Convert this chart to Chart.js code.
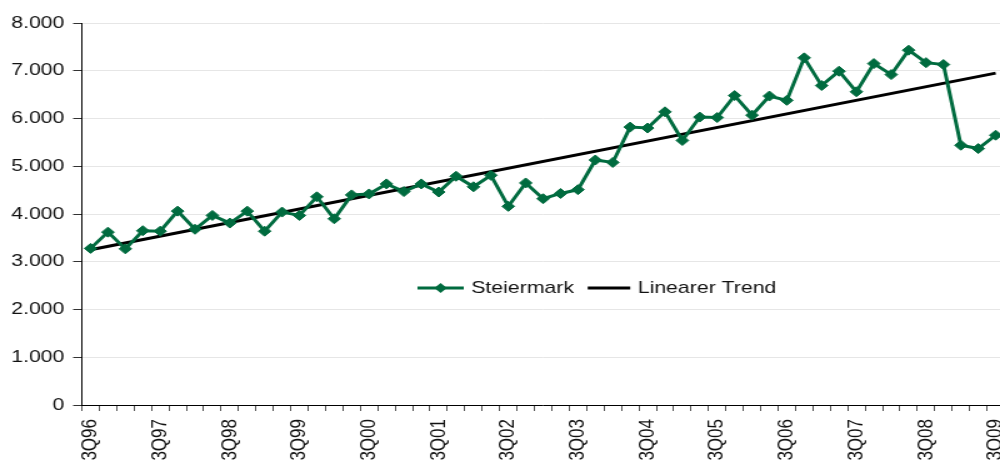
<!DOCTYPE html>
<html>
<head>
<meta charset="utf-8">
<script src="https://cdn.jsdelivr.net/npm/chart.js@4"></script>
<style>
  html, body { margin: 0; padding: 0; width: 1000px; height: 466px; overflow: hidden; background: #fff; }
  /* original chart is stretched horizontally, so draw narrower and stretch */
  #wrap { position: absolute; left: 0; top: 0; width: 825px; height: 466px; transform: scaleX(1.25); transform-origin: 0 0; }
</style>
</head>
<body>
<div id="wrap"><canvas id="chart" width="825" height="466"></canvas></div>
<script>
// Daten
const quarters = [
  '3Q96', '4Q96',
  '1Q97', '2Q97', '3Q97', '4Q97',
  '1Q98', '2Q98', '3Q98', '4Q98',
  '1Q99', '2Q99', '3Q99', '4Q99',
  '1Q00', '2Q00', '3Q00', '4Q00',
  '1Q01', '2Q01', '3Q01', '4Q01',
  '1Q02', '2Q02', '3Q02', '4Q02',
  '1Q03', '2Q03', '3Q03', '4Q03',
  '1Q04', '2Q04', '3Q04', '4Q04',
  '1Q05', '2Q05', '3Q05', '4Q05',
  '1Q06', '2Q06', '3Q06', '4Q06',
  '1Q07', '2Q07', '3Q07', '4Q07',
  '1Q08', '2Q08', '3Q08', '4Q08',
  '1Q09', '2Q09', '3Q09'
];
const steiermark = [
  3280, 3620,
  3270, 3650, 3640, 4060,
  3680, 3970, 3810, 4060,
  3640, 4040, 3970, 4360,
  3900, 4400, 4420, 4630,
  4470, 4630, 4460, 4790,
  4570, 4810, 4160, 4650,
  4320, 4430, 4510, 5130,
  5080, 5820, 5800, 6140,
  5540, 6030, 6020, 6480,
  6070, 6470, 6380, 7270,
  6690, 6990, 6560, 7150,
  6920, 7430, 7170, 7130,
  5440, 5370, 5650
];
// Linearer Trend: Anfangs- und Endwert
const trendQuarters = ['3Q96', '3Q09'];
const trendValues = [3250, 6950];
const xTickLabels = ['3Q96', '3Q97', '3Q98', '3Q99', '3Q00', '3Q01', '3Q02',
  '3Q03', '3Q04', '3Q05', '3Q06', '3Q07', '3Q08', '3Q09'];
const yTicks = [0, 1000, 2000, 3000, 4000, 5000, 6000, 7000, 8000];
// Daten

const green = '#006b3f';
const textColor = '#111';
const fontFamily = '"Liberation Sans", Arial, sans-serif';

const fmt = v => String(v).replace(/\B(?=(\d{3})+(?!\d))/g, '.');

// Legende innerhalb des Diagramms
const innerLegend = {
  id: 'innerLegend',
  afterDraw(chart) {
    const ctx = chart.ctx;
    const y = 288;
    let x = 334;
    ctx.save();
    ctx.font = '17px ' + fontFamily;
    ctx.textBaseline = 'middle';
    ctx.textAlign = 'left';

    ctx.strokeStyle = green;
    ctx.fillStyle = green;
    ctx.lineWidth = 3;
    ctx.beginPath();
    ctx.moveTo(x, y);
    ctx.lineTo(x + 37, y);
    ctx.stroke();
    const cx = x + 18.5;
    ctx.beginPath();
    ctx.moveTo(cx, y - 5);
    ctx.lineTo(cx + 5, y);
    ctx.lineTo(cx, y + 5);
    ctx.lineTo(cx - 5, y);
    ctx.closePath();
    ctx.fill();
    x += 43;
    ctx.fillStyle = textColor;
    ctx.fillText(chart.data.datasets[0].label, x, y);
    x += ctx.measureText(chart.data.datasets[0].label).width + 11;

    ctx.strokeStyle = '#000';
    ctx.lineWidth = 3;
    ctx.beginPath();
    ctx.moveTo(x, y);
    ctx.lineTo(x + 34, y);
    ctx.stroke();
    x += 40;
    ctx.fillText(chart.data.datasets[1].label, x, y);
    ctx.restore();
  }
};

const ctx = document.getElementById('chart').getContext('2d');
const chart = new Chart(ctx, {
  type: 'line',
  data: {
    labels: quarters,
    datasets: [{
      label: 'Steiermark',
      data: steiermark,
      borderColor: green,
      backgroundColor: green,
      borderWidth: 3,
      pointStyle: 'rectRot',
      pointRadius: 5,
      pointBorderWidth: 1,
      pointHoverRadius: 5,
      tension: 0
    }, {
      label: 'Linearer Trend',
      data: trendQuarters.map((q, i) => ({ x: q, y: trendValues[i] })),
      borderColor: '#000',
      backgroundColor: '#000',
      borderWidth: 3,
      pointRadius: 0,
      tension: 0
    }]
  },
  options: {
    responsive: false,
    animation: false,
    devicePixelRatio: 1,
    layout: { padding: { top: 23, right: 3, left: 0, bottom: 0 } },
    plugins: {
      legend: { display: false },
      tooltip: { enabled: false }
    },
    scales: {
      x: {
        type: 'category',
        offset: true,
        afterFit: s => { s.height = 61; },
        grid: {
          offset: true,
          drawOnChartArea: false,
          drawTicks: true,
          tickLength: 6,
          tickColor: '#555'
        },
        border: { color: '#000', width: 1 },
        ticks: {
          autoSkip: false,
          minRotation: 90,
          maxRotation: 90,
          padding: 8,
          color: textColor,
          font: { family: fontFamily, size: 17 },
          callback: function (v, i) {
            const l = this.getLabelForValue(v);
            return xTickLabels.includes(l) ? l : '';
          }
        }
      },
      y: {
        min: 0,
        max: 8000,
        afterFit: s => { s.width = 65.5; },
        afterBuildTicks: s => { s.ticks = yTicks.map(v => ({ value: v })); },
        grid: {
          color: '#e6e6e6',
          lineWidth: 1,
          tickLength: 7,
          tickColor: '#333'
        },
        border: { color: '#000', width: 1 },
        ticks: {
          padding: 7,
          color: textColor,
          font: { family: fontFamily, size: 17 },
          callback: v => fmt(v)
        }
      }
    }
  },
  plugins: [innerLegend]
});
</script>
</body>
</html>
